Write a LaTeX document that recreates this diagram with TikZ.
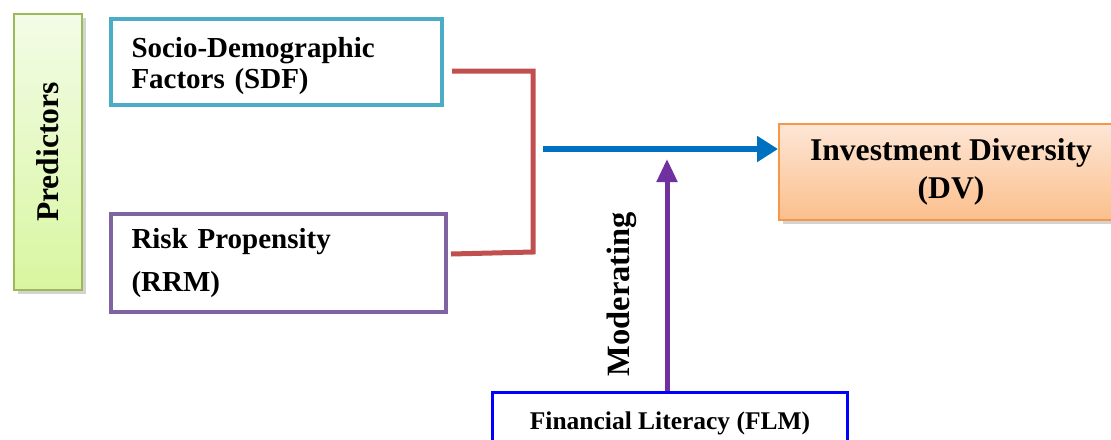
\documentclass[tikz,border=0pt]{standalone}
\usepackage{fontspec}
\setmainfont{Liberation Serif}
\usepackage{tikz}
\usetikzlibrary{calc,positioning,arrows.meta,shadows}
\definecolor{sdfblue}{HTML}{4BACC6}
\definecolor{rrmpurple}{HTML}{8064A2}
\definecolor{bracketred}{HTML}{C0504D}
\definecolor{flowblue}{HTML}{0070C0}
\definecolor{modpurple}{HTML}{7030A0}
\definecolor{flmblue}{HTML}{0000FF}
\definecolor{dvorange}{HTML}{F79646}
\definecolor{dvtop}{HTML}{FDE6D6}
\definecolor{dvbottom}{HTML}{FBBF8C}
\definecolor{predgreen}{HTML}{9BBB59}
\definecolor{predtop}{HTML}{F3FCE7}
\definecolor{predbottom}{HTML}{D8F6A0}

\begin{document}
\begin{tikzpicture}[x=0.2mm,y=-0.2mm]

\tikzset{bigfont/.style={font=\fontsize{16.5}{17.6}\selectfont\bfseries},
varbox/.style={bigfont,fill=white,line width=0.8mm,inner xsep=4mm,text width=58mm,align=left,minimum width=66.2mm,anchor=north west},
predbox/.style={top color=predtop,bottom color=predbottom,draw=predgreen,line width=0.4mm,minimum width=13.6mm,minimum height=55.2mm,anchor=north west,drop shadow={opacity=0.35,shadow xshift=0.7mm,shadow yshift=-0.7mm}},
dvbox/.style={top color=dvtop,bottom color=dvbottom,draw=dvorange,line width=0.4mm,minimum width=68.8mm,minimum height=19.2mm,anchor=north west,align=center,font=\fontsize{18}{21.5}\selectfont\bfseries,drop shadow={opacity=0.35,shadow xshift=0.7mm,shadow yshift=-0.7mm}},
flmbox/.style={draw=flmblue,fill=white,line width=0.6mm,minimum width=71mm,minimum height=12.4mm,anchor=north west,font=\fontsize{14.5}{16}\selectfont\bfseries},
bracket/.style={draw=bracketred,line width=1mm},
flow/.style={draw=flowblue,line width=1.1mm,-{Triangle[length=4.2mm,width=5mm]}},
modarrow/.style={draw=modpurple,line width=1mm,-{Triangle[length=4.6mm,width=4mm]}}}

\useasboundingbox (0,0) rectangle (1111,439);

% Predictors
\node[predbox] (pred) at (13,13) {};
\node[rotate=90,font=\fontsize{18}{20}\selectfont\bfseries] (predlabel) at (pred.center) {Predictors};

% Predictor variables
\node[varbox,draw=sdfblue,minimum height=17.2mm] (sdf) at (109,17) {\rule{0pt}{5.8mm}Socio-Demographic\\Factors (SDF)};
\node[varbox,draw=rrmpurple,minimum height=19.6mm,text width=58.8mm,minimum width=67mm] (rrm) at (109,212) {Risk Propensity\\[2.5mm](RRM)};

% Dependent variable
\node[dvbox] (dv) at (778,123) {Investment Diversity\\(DV)};

% Moderator
\node[flmbox] (flm) at (491,391) {Financial Literacy (FLM)};
\node[rotate=90,font=\fontsize{18.5}{20}\selectfont\bfseries] (modlabel) at (622,294) {Moderating};

% Connectors
\coordinate (jbot) at (533,252);
\coordinate (jmid) at (543,149);
\coordinate (modtip) at (667,159);
\draw[bracket] ([xshift=1.6mm,yshift=-1.8mm]sdf.east) -| (jbot) -- ([xshift=0.6mm,yshift=1.8mm]rrm.east);
\draw[flow] (jmid) -- (jmid -| dv.west);
\draw[modarrow] (flm.north -| modtip) -- (modtip);

\end{tikzpicture}
\end{document}
